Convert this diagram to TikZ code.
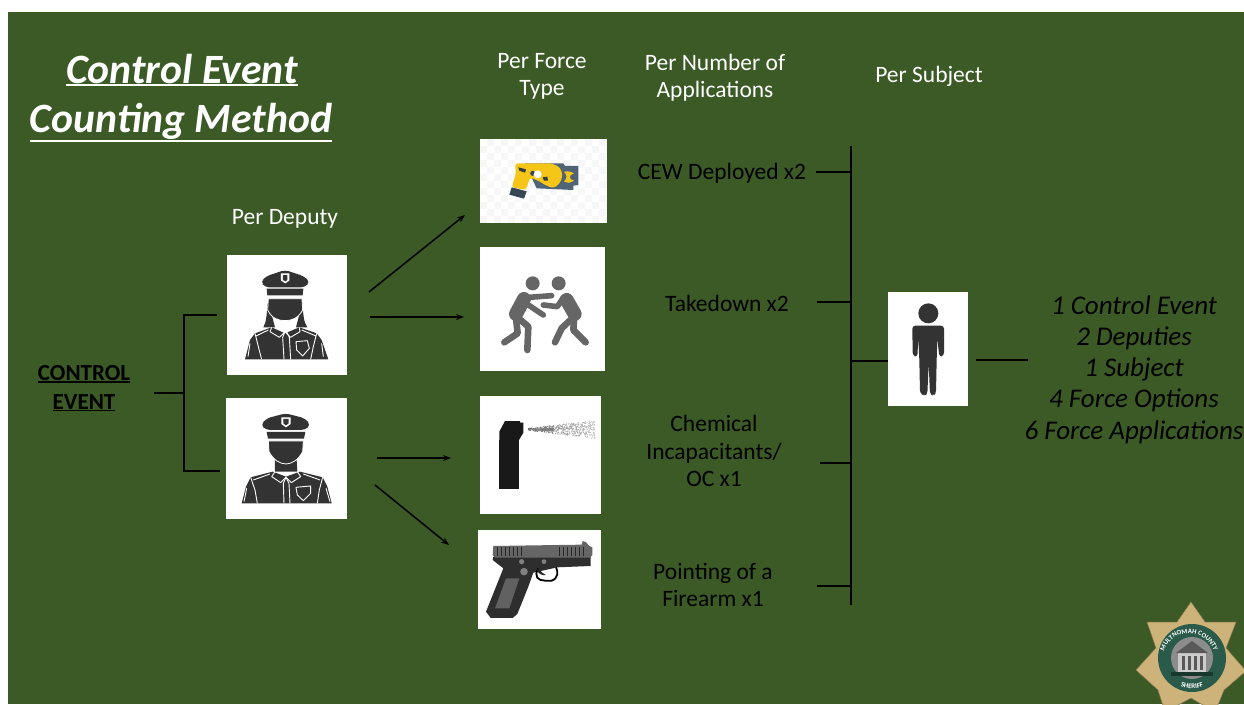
\documentclass[tikz,border=0pt]{standalone}
\usepackage{fontspec}
\setmainfont[Ligatures={Common,Rare}]{Carlito}
\usetikzlibrary{arrows.meta,decorations.text}
\definecolor{bggreen}{HTML}{3B5A25}
\definecolor{icondark}{HTML}{333333}
\definecolor{fightgray}{HTML}{666666}
\definecolor{tyellow}{HTML}{F5C518}
\definecolor{tblue}{HTML}{4F6475}
\definecolor{gold}{HTML}{CDB27A}
\definecolor{sealgreen}{HTML}{2A5A4A}
\newcommand{\ulbar}[3]{\leavevmode\vtop{\hbox{#1}\kern#2\hrule height #3}}
\tikzset{
  x=1pt,y=-1pt,
  whitelabel/.style={text=white,font=\fontsize{23.5}{27}\selectfont,align=center,inner sep=0pt},
  blacklabel/.style={text=black,font=\fontsize{23.5}{27.5}\selectfont,align=center,inner sep=0pt},
  summary/.style={text=black,font=\itshape\fontsize{27}{31.2}\selectfont,align=center,inner sep=0pt},
  conn/.style={draw=black,line width=1.5pt},
  arr/.style={conn,-{Stealth[length=8pt,width=6pt]}},
  zoomed/.style={x=0.3333pt,y=-0.3333pt},
  wl/.style={draw=white,line width=0.9pt,line join=round},
}
\begin{document}
\begin{tikzpicture}
\useasboundingbox (0,0) rectangle (1244,704);
\fill[white] (0,0) rectangle (1244,704);
\fill[bggreen] (8,12) rectangle (1244,704);

% ---- title
\node[text=white,font=\bfseries\itshape\fontsize{41.7}{42}\selectfont,inner sep=0pt,anchor=base] (t1) at (182,83) {\ulbar{Control Event}{1pt}{2pt}};
\node[text=white,font=\bfseries\itshape\fontsize{41.7}{42}\selectfont,inner sep=0pt,anchor=base] (t2) at (181,132) {\ulbar{Counting Method}{1pt}{2pt}};

% ---- column heads
\node[whitelabel] (h1) at (285,219) {Per Deputy};
\node[whitelabel] (h2) at (542,76.5) {Per Force\\Type};
\node[whitelabel] (h3) at (715,77.5) {Per Number of\\Applications};
\node[whitelabel] (h4) at (929,76) {Per Subjec\kern0pt t};

% ---- boxes
\node[fill=white,inner sep=0,minimum width=120,minimum height=120,anchor=north west] (dep1) at (227,255) {};
\node[fill=white,inner sep=0,minimum width=121,minimum height=121,anchor=north west] (dep2) at (226,398) {};
\node[fill=black!3,inner sep=0,minimum width=127,minimum height=84,anchor=north west] (taser) at (480,139) {};
\node[fill=white,inner sep=0,minimum width=125,minimum height=124,anchor=north west] (fight) at (480,247) {};
\node[fill=white,inner sep=0,minimum width=121,minimum height=118,anchor=north west] (spray) at (480,396) {};
\node[fill=white,inner sep=0,minimum width=123,minimum height=99,anchor=north west] (gun) at (478,530) {};
\node[fill=white,inner sep=0,minimum width=80,minimum height=114,anchor=north west] (person) at (888,292) {};

% ---- female deputy
\begin{scope}[shift={(220,250)},zoomed]
\fill[icondark,rounded corners=4pt] (122,95)--(140,78)--(195,60)--(250,78)--(270,95)--(255,112)--(135,112)--cycle;
\fill[icondark] (140,116)--(250,116)--(248,136)--(142,136)--cycle;
\fill[white] (183,70)--(208,70)--(208,92)--(196,100)--(183,92)--cycle;
\fill[icondark] (189,75)--(202,75)--(202,90)--(196,94)--(189,90)--cycle;
\fill[icondark] (143,160)..controls (140,190) and (140,215) .. (130,232)--(165,232)--(158,205)--cycle;
\fill[icondark] (247,160)..controls (250,190) and (250,215) .. (262,232)--(228,232)--(235,205)--cycle;
\fill[icondark] (75,328)--(90,270)--(105,250)--(155,232)--(195,250)--(238,232)--(290,250)--(305,270)--(325,328)--cycle;
\fill[icondark,draw=white,line width=0.8pt] (145,146)--(246,146)--(248,180)..controls (235,205) and (215,212) .. (195,212)..controls (175,212) and (155,205) .. (143,180)--cycle;
\draw[wl] (155,232)--(150,245)--(178,262)--(195,245)--(212,262)--(240,245)--(238,232);
\draw[wl] (195,245)--(188,262)--(192,328) (200,245)--(208,262)--(212,328);
\draw[wl] (105,250)--(115,290)--(125,328) (290,250)--(280,290)--(272,328);
\draw[wl] (108,258)--(145,240) (288,258)--(245,240);
\draw[wl] (228,275)--(262,272)--(268,295)--(248,318)--(230,300)--cycle;
\draw[wl] (90,280)--(84,320) (305,280)--(310,320);
\end{scope}

% ---- male deputy
\begin{scope}[shift={(220,250)},zoomed]
\fill[icondark,rounded corners=4pt] (122,525)--(140,505)--(197,490)--(255,505)--(272,525)--(255,540)--(138,540)--cycle;
\fill[icondark] (140,546)--(256,546)--(252,566)--(144,566)--cycle;
\fill[white] (184,502)--(212,502)--(212,522)--(198,532)--(184,522)--cycle;
\fill[icondark] (190,507)--(206,507)--(206,520)--(198,526)--(190,520)--cycle;
\fill[icondark] (165,630)--(230,630)--(232,665)--(165,665)--cycle;
\fill[icondark] (65,760)--(78,710)--(92,682)--(158,665)--(198,680)--(240,665)--(308,682)--(322,710)--(335,760)--cycle;
\fill[icondark,draw=white,line width=0.8pt] (145,573)--(250,573)--(248,605)..controls (235,630) and (215,642) .. (198,642)..controls (180,642) and (160,630) .. (147,605)--cycle;
\draw[wl] (165,665)--(155,680)--(182,698)--(198,682)--(214,698)--(242,680)--(232,665);
\draw[wl] (198,682)--(190,700)--(192,760) (198,682)--(207,700)--(210,760);
\draw[wl] (92,682)--(105,720)--(112,760) (308,682)--(298,720)--(292,760);
\draw[wl] (100,690)--(150,672) (300,690)--(250,672);
\draw[wl] (228,712)--(272,708)--(272,730)--(250,752)--(232,735)--cycle;
\draw[wl] (80,715)--(72,755) (318,715)--(330,755);
\end{scope}

% ---- taser
\begin{scope}[shift={(470,130)},zoomed]
\foreach \i in {0,...,17}{\foreach \j in {0,...,11}{
  \pgfmathparse{int(mod(\i+\j,2))}
  \ifnum\pgfmathresult=0 \fill[white] ({30+\i*21},{27+\j*21}) rectangle ++(21,20.9);\fi}}
\fill[tblue] (165,100)--(280,100)--(285,108)--(325,108)--(325,165)--(310,167)--(310,180)--(200,175)--cycle;
\fill[tyellow,rounded corners=3pt] (135,100)--(245,100)--(270,112)--(278,135)--(270,160)--(250,175)--(225,165)--(210,155)--(180,142)--(168,180)--(125,172)--(138,130)--cycle;
\fill[tblue!70!black] (125,172)--(170,184)--(162,206)--(118,194)--cycle;
\fill[tblue!60!black] (145,112)--(168,118)--(165,128)--(148,122)--cycle;
\fill[tblue!70!black] (188,130) circle (2.5pt);
\fill[white] (203,133) circle (4pt);
\fill[tblue!60!black] (218,142)--(232,140)--(234,152)--(222,152)--cycle;
\fill[tyellow] (282,125)..controls (305,122) and (310,130) .. (312,130)..controls (295,135) and (295,148) .. (312,152)..controls (300,160) and (290,160) .. (282,155)..controls (292,145) and (292,135) .. (282,125);
\end{scope}

% ---- takedown
\begin{scope}[shift={(470,130)},zoomed,fightgray,line cap=round,line join=round]
\fill (188,460) circle (7pt);
\fill (266,460) circle (7pt);
\draw[line width=14pt] (162,507)--(138,552);
\draw[line width=5.6pt] (165,503)--(245,497);
\draw[line width=5.6pt] (175,525)--(220,555);
\draw[line width=6.6pt] (140,560)--(175,590)--(172,660);
\draw[line width=6.6pt] (138,565)--(143,610)--(103,637);
\draw[line width=14pt] (290,510)--(314,552);
\draw[line width=5.6pt] (280,503)--(262,530)--(220,525);
\draw[line width=6.6pt] (312,560)--(275,595)--(255,637);
\draw[line width=6.6pt] (312,570)--(310,600)--(347,637);
\end{scope}

% ---- spray
\begin{scope}[shift={(470,390)},zoomed]
\fill[black!90] (88,150)--(147,150)--(147,297)--(88,297)--cycle;
\fill[black!90] (88,150)--(88,125)--(105,93)--(150,93)--(150,98)--(160,98)--(160,128)--(147,150)--cycle;
\pgfmathsetseed{42}
\foreach \n in {1,...,450}{
  \pgfmathsetmacro{\tt}{rnd^0.7}
  \pgfmathsetmacro{\px}{170+205*\tt}
  \pgfmathsetmacro{\py}{118+(2+26*\tt)*(2*rnd-1)}
  \pgfmathsetmacro{\shade}{60-35*\tt}
  \fill[black!\shade] (\px,\py) circle (0.6pt);
}
\fill[black!50] (172,119)--(250,112)--(250,125)--cycle;
\end{scope}

% ---- firearm
\begin{scope}[shift={(470,390)},zoomed]
\fill[black!82] (100,535)--(68,510)--(70,500)--(362,500)--(362,528)--(262,532)--(190,548)--(175,590)--(142,672)--(128,684)--(62,684)--(48,665)--cycle;
\draw[black,line width=1.8pt] (205,535)..controls (190,560) and (205,572) .. (225,572)--(245,572)..controls (265,565) and (265,545) .. (258,532);
\fill[black!85] (205,535)..controls (215,548) and (220,552) .. (228,555)..controls (215,558) and (205,550) .. (200,540)--cycle;
\fill[black!60] (70,468)--(335,464)--(338,453)--(347,456)--(358,468)--(367,472)--(367,495)--(360,503)--(75,503)--(68,495)--cycle;
\foreach \xx in {82,94,106,118,130,142,154,268,280,292,304,316,328,340}{\draw[black!85,line width=0.8pt] (\xx,472)--(\xx,498);}
\fill[black!50] (155,515) circle (2.6pt);
\fill[black!50] (222,515) circle (2.4pt);
\fill[black!50] (162,545) circle (3.8pt);
\fill[black!62] (108,565)--(148,565)--(118,655)--(75,655)--cycle;
\end{scope}

% ---- subject
\begin{scope}[shift={(880,285)},zoomed,icondark]
\fill (145,85) circle (10pt);
\fill[rounded corners=3pt] (97,122)--(192,122)--(192,212)--(178,216)--(172,160)--(170,225)--(168,325)--(160,332)--(150,328)--(146,235)--(142,328)--(132,332)--(120,325)--(118,225)--(115,160)--(112,216)--(98,212)--cycle;
\end{scope}

% ---- badge
\begin{scope}
\clip (8,12) rectangle (1244,704);
\fill[gold,draw=gold!70!black,line width=.5pt]
  (1191,602)--(1205,622)--(1236,622)--(1226,648)--(1246,671)--(1224,690)--(1215,712)--(1191,698)--(1165,712)--(1158,690)--(1136,670)--(1156,648)--(1147,622)--(1177,622)--cycle;
\fill[sealgreen] (1192,658) circle (34);
\fill[black!45] (1192,658) circle (21);
\fill[black!20] (1178,652) rectangle (1206,672);
\fill[black!65] (1192,641)--(1208,653)--(1176,653)--cycle;
\foreach \xx in {1182,1188,1194,1200}{\fill[black!65] (\xx,656) rectangle +(3,14);}
\fill[sealgreen!60!black] (1171,672) rectangle (1213,676);
\path[decorate,decoration={text along path,text align=center,text color=white,
   text={|\bfseries\fontsize{6.8}{8}\selectfont|MULTNOMAH COUNTY}}]
  (1166,673) arc[start angle=210,end angle=-30,radius=26.5,y radius=-26.5];
\path[decorate,decoration={text along path,text align=center,text color=white,
   text={|\bfseries\fontsize{7}{8}\selectfont|SHERIFF}}]
  (1172,682) .. controls (1182,691) and (1202,691) .. (1212,682);
\end{scope}

% ---- labels
\node[blacklabel,font=\bfseries\fontsize{23}{28}\selectfont] (ce) at (84,388.5) {\ulbar{CONTROL}{0.5pt}{1.2pt}\\[1pt]\ulbar{EVENT}{0.5pt}{1.2pt}};
\node[blacklabel,anchor=center] (l1) at (722,173) {CEW Deployed x2};
\node[blacklabel] (l2) at (727,303) {Takedown x2};
\node[blacklabel] (l3) at (714,451) {Chemical\\Incapacitants/\\OC x1};
\node[blacklabel] (l4) at (713,585) {Pointing of a\\Firearm x1};
\node[summary] (sum) at (1134,369.5) {1 Control Event\\2 Deputies\\1 Subjec\kern0pt t\\4 Force Options\\6 Force Applications};

% ---- free ends and junctions
\coordinate (ceR) at (154,393);
\coordinate (brM) at (184,393);
\coordinate (brT) at (184,315);
\coordinate (brB) at (184,471);
\coordinate (d1L) at (217,315);
\coordinate (d2L) at (220,471);
\coordinate (a1s) at (369,292);
\coordinate (a1e) at (465,215);
\coordinate (a2s) at (370,317);
\coordinate (a2e) at (464,317);
\coordinate (a3s) at (377,458);
\coordinate (a3e) at (451,458);
\coordinate (a4s) at (375,485);
\coordinate (a4e) at (449,545);
\coordinate (vT) at (851,146);
\coordinate (vB) at (851,605);
\coordinate (t1a) at (816,172);
\coordinate (t1b) at (851,172);
\coordinate (t2a) at (817,302);
\coordinate (t2b) at (851,302);
\coordinate (t3a) at (820,463);
\coordinate (t3b) at (851,463);
\coordinate (t4a) at (817,586);
\coordinate (t4b) at (851,586);
\coordinate (vM) at (851,361);
\coordinate (pR) at (976,360);
\coordinate (sL) at (1028,360);

% ---- connectors
\draw[conn] (ceR)--(brM);
\draw[conn] (d1L)--(brT)--(brB)--(d2L);
\draw[arr] (a1s)--(a1e);
\draw[arr] (a2s)--(a2e);
\draw[arr] (a3s)--(a3e);
\draw[arr] (a4s)--(a4e);
\draw[conn] (vT)--(vB);
\draw[conn] (t1a)--(t1b);
\draw[conn] (t2a)--(t2b);
\draw[conn] (t3a)--(t3b);
\draw[conn] (t4a)--(t4b);
\draw[conn] (vM)--(person.west |- vM);
\draw[conn] (pR)--(sL);
\end{tikzpicture}
\end{document}
